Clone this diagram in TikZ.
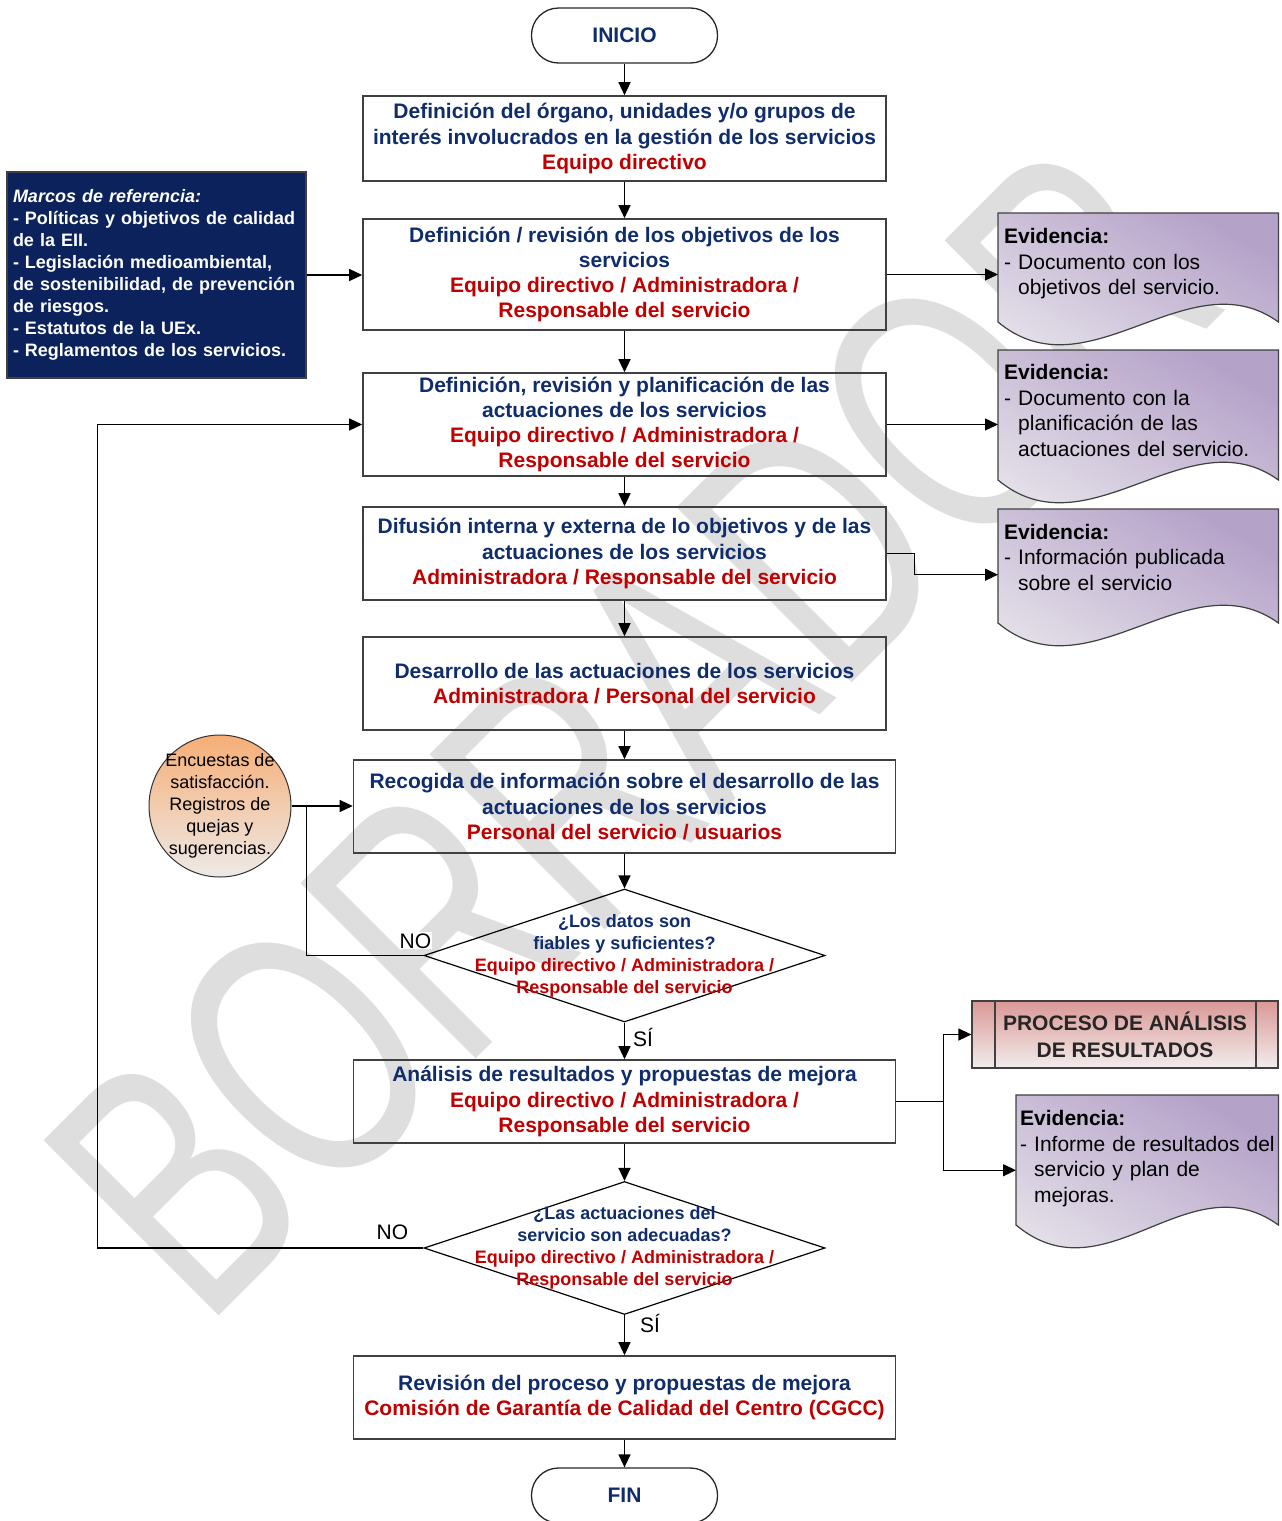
\documentclass[tikz,border=0pt]{standalone}
\usepackage{fontspec}
\setmainfont{Liberation Sans}
\usepackage{xcolor}
\definecolor{FlowNavy}{HTML}{0F2C6C}
\definecolor{FlowRed}{HTML}{C00000}
\definecolor{MarcoNavy}{HTML}{0C225C}
\definecolor{EdgeGray}{HTML}{404040}
\definecolor{EviLight}{HTML}{E8E5EB}
\definecolor{EviMid}{HTML}{CBBFD8}
\definecolor{EviDark}{HTML}{B5A2C9}
\definecolor{ProcTop}{HTML}{D99896}
\definecolor{ProcBot}{HTML}{F2ECEC}
\definecolor{EncTop}{HTML}{F6AE76}
\definecolor{EncBot}{HTML}{EDEAE8}
\definecolor{MarkGray}{HTML}{DEDEDE}
\usepackage{tikz}
\usetikzlibrary{positioning, calc, backgrounds, shapes.geometric, arrows.meta}
\pgfdeclarelayer{wmlayer}
\pgfsetlayers{wmlayer,background,main}

\newcommand{\resp}[1]{\textcolor{FlowRed}{#1}}
%% wavy evidence sheet behind a node, #2 = depth of the wave line
\newcommand{\evipaper}[2]{%
  \begin{pgfonlayer}{background}
    \path[evifill] (#1.north west) -- (#1.north east) -- ($(#1.north east)+(0,#2)$)
      .. controls +(-90,-65) and +(90,75) .. ($(#1.north west)+(0,#2)$) -- cycle;
  \end{pgfonlayer}}

\begin{document}
\begin{tikzpicture}[x=1pt, y=-1pt,
  link/.style={draw=black, line width=1.3pt},
  flow/.style={link, -{Triangle[length=13pt, width=12pt]}},
  term/.style={draw=black!85, line width=1.3pt, rounded corners=27pt,
    minimum width=186pt, minimum height=55pt,
    font=\fontsize{21}{25}\selectfont\bfseries\color{FlowNavy}},
  task/.style={draw=EdgeGray, line width=1.6pt, minimum width=523pt, inner sep=3pt,
    align=center, font=\fontsize{21}{25.2}\selectfont\bfseries\color{FlowNavy}},
  wide/.style={task, minimum width=542pt},
  ask/.style={draw=black, line width=1.2pt, shape=diamond, inner sep=0pt,
    minimum width=401pt, minimum height=133pt},
  asktext/.style={align=center, inner sep=0pt,
    font=\fontsize{18}{22}\selectfont\bfseries\color{FlowNavy}},
  marco/.style={draw=EdgeGray, line width=1.2pt, fill=MarcoNavy,
    minimum width=299pt, minimum height=206pt, text width=287pt, inner xsep=6pt,
    align=left, font=\fontsize{18}{22}\selectfont\bfseries\color{white}},
  evi/.style={anchor=north west, text width=268pt, inner xsep=6pt, inner ysep=3pt,
    align=left, font=\fontsize{21}{25.5}\selectfont},
  evifill/.style={draw=EdgeGray, line width=1.2pt, top color=EviLight,
    middle color=EviMid, bottom color=EviDark, shading angle=150},
  proc/.style={draw=EdgeGray, line width=1.2pt, top color=ProcTop, bottom color=ProcBot,
    minimum width=306pt, minimum height=67pt, align=center,
    font=\fontsize{21}{27}\selectfont\bfseries\color{black!85},
    path picture={
      \draw[EdgeGray, line width=1.2pt]
        ([xshift=23pt]path picture bounding box.north west) --
        ([xshift=23pt]path picture bounding box.south west);
      \draw[EdgeGray, line width=1.2pt]
        ([xshift=-22pt]path picture bounding box.north east) --
        ([xshift=-22pt]path picture bounding box.south east);}},
  enc/.style={circle, draw=black!80, line width=1pt, minimum size=142pt,
    top color=EncTop, bottom color=EncBot},
  enctext/.style={align=center, inner sep=0pt, font=\fontsize{18}{22}\selectfont},
  lbl/.style={fill=white, inner sep=1pt, font=\fontsize{21}{25}\selectfont},
  watermark/.style={anchor=base west, rotate=45, xscale=0.7, inner sep=0pt,
    font=\fontsize{360}{360}\selectfont\color{MarkGray}}]
  \useasboundingbox (0,0) rectangle (1282,1521);

  %% watermark
  \begin{pgfonlayer}{wmlayer}
    \node[watermark] (wm) at (204,1331) {BORRADOR};
  \end{pgfonlayer}

  %% main column
  \node[term] (ini) at (624.5,35.5) {INICIO};
  \node[task, minimum height=85pt] (b1) at (624.5,138.5)
    {Definición del órgano, unidades y/o grupos de\\
     interés involucrados en la gestión de los servicios\\
     \resp{Equipo directivo}};
  \node[task, minimum height=111pt] (b2) at (624.5,274.5)
    {Definición / revisión de los objetivos de los\\servicios\\
     \resp{Equipo directivo / Administradora /}\\\resp{Responsable del servicio}};
  \node[task, minimum height=103pt] (b3) at (624.5,424.5)
    {Definición, revisión y planificación de las\\actuaciones de los servicios\\
     \resp{Equipo directivo / Administradora /}\\\resp{Responsable del servicio}};
  \node[task, minimum height=93pt] (b4) at (624.5,553.5)
    {Difusión interna y externa de lo objetivos y de las\\actuaciones de los servicios\\
     \resp{Administradora / Responsable del servicio}};
  \node[task, minimum height=93pt] (b5) at (624.5,683.5)
    {Desarrollo de las actuaciones de los servicios\\
     \resp{Administradora / Personal del servicio}};
  \node[wide, minimum height=93pt] (b6) at (624.5,806.5)
    {Recogida de información sobre el desarrollo de las\\actuaciones de los servicios\\
     \resp{Personal del servicio / usuarios}};
  \node[ask] (d1) at (624.5,955.5) {};
  \node[asktext] (d1txt) at (d1) {¿Los datos son\\fiables y suficientes?\\
     \resp{Equipo directivo / Administradora /}\\\resp{Responsable del servicio}};
  \node[wide, minimum height=83pt] (b7) at (624.5,1101.5)
    {Análisis de resultados y propuestas de mejora\\
     \resp{Equipo directivo / Administradora /}\\\resp{Responsable del servicio}};
  \node[ask] (d2) at (624.5,1248) {};
  \node[asktext] (d2txt) at (d2) {¿Las actuaciones del\\servicio son adecuadas?\\
     \resp{Equipo directivo / Administradora /}\\\resp{Responsable del servicio}};
  \node[wide, minimum height=83pt] (b8) at (624.5,1397.5)
    {Revisión del proceso y propuestas de mejora\\
     \resp{Comisión de Garantía de Calidad del Centro (CGCC)}};
  \node[term] (fin) at (624.5,1495.5) {FIN};

  %% inputs on the left
  \node[marco] (marcos) at (156.5,275)
    {\textit{Marcos de referencia:}\\- Políticas y objetivos de calidad\\de la EII.\\
     - Legislación medioambiental,\\de sostenibilidad, de prevención\\de riesgos.\\
     - Estatutos de la UEx.\\- Reglamentos de los servicios.};
  \node[enc] (enc) at (220,806) {};
  \node[enctext] (enctxt) at (enc)
    {Encuestas de\\satisfacción.\\Registros de\\quejas y\\sugerencias.};

  %% evidences on the right
  \node[evi, minimum height=125pt] (evi1) at (998,213)
    {\textbf{Evidencia:}\\- Documento con los\\\phantom{- }objetivos del servicio.\rule[-28pt]{0pt}{28pt}};
  \evipaper{evi1}{109}
  \node[evi, minimum height=148pt] (evi2) at (998,350)
    {\textbf{Evidencia:}\\- Documento con la\\\phantom{- }planificación de las\\
     \phantom{- }actuaciones del servicio.\rule[-28pt]{0pt}{28pt}};
  \evipaper{evi2}{130}
  \node[evi, minimum height=131pt] (evi3) at (998,509)
    {\textbf{Evidencia:}\\- Información publicada\\\phantom{- }sobre el servicio\rule[-35pt]{0pt}{35pt}};
  \evipaper{evi3}{114}
  \node[proc] (pre) at (1125,1034.5) {PROCESO DE ANÁLISIS\\DE RESULTADOS};
  \node[evi, minimum height=150pt, text width=254pt, inner xsep=4pt] (evi4) at (1016,1095)
    {\textbf{Evidencia:}\\\mbox{- Informe de resultados del}\\\phantom{- }servicio y plan de\\
     \phantom{- }mejoras.\rule[-28pt]{0pt}{28pt}};
  \evipaper{evi4}{130}

  %% main flow
  \draw[flow] (ini) -- (b1);
  \draw[flow] (b1) -- (b2);
  \draw[flow] (b2) -- (b3);
  \draw[flow] (b3) -- (b4);
  \draw[flow] (b4) -- (b5);
  \draw[flow] (b5) -- (b6);
  \draw[flow] (b6) -- (d1);
  \draw[flow] (d1) -- node[lbl, pos=0.4, right=7pt] (si1) {SÍ} (b7);
  \draw[flow] (b7) -- (d2);
  \draw[flow] (d2) -- node[lbl, pos=0.22, right=14pt] (si2) {SÍ} (b8);
  \draw[flow] (b8) -- (fin);

  %% side links
  \draw[flow] (marcos.east) -- (marcos.east -| b2.west);
  \draw[flow] (b2.east) -- (b2.east -| evi1.west);
  \draw[flow] (b3.east) -- (b3.east -| evi2.west);
  \draw[flow] (b4.east) -- ++(28,0) |- (evi3.west);
  \draw[flow] (enc.east) -- (enc.east -| b6.west);
  \coordinate (j1) at ([xshift=15pt]enc.east);
  \draw[link] (d1.west) -| (j1);
  \node[lbl, anchor=south] (no1) at ([xshift=-8pt, yshift=6pt]d1.west) {NO};
  \draw[flow] (d2.west) -- ++(-326,0) |- (b3.west);
  \node[lbl, anchor=south] (no2) at ([xshift=-31pt, yshift=7pt]d2.west) {NO};
  \draw[link] (b7.east) -- ++(47,0) coordinate (s7);
  \draw[flow] (s7) |- (pre.west);
  \draw[flow] (s7) |- (evi4.west);
\end{tikzpicture}
\end{document}
